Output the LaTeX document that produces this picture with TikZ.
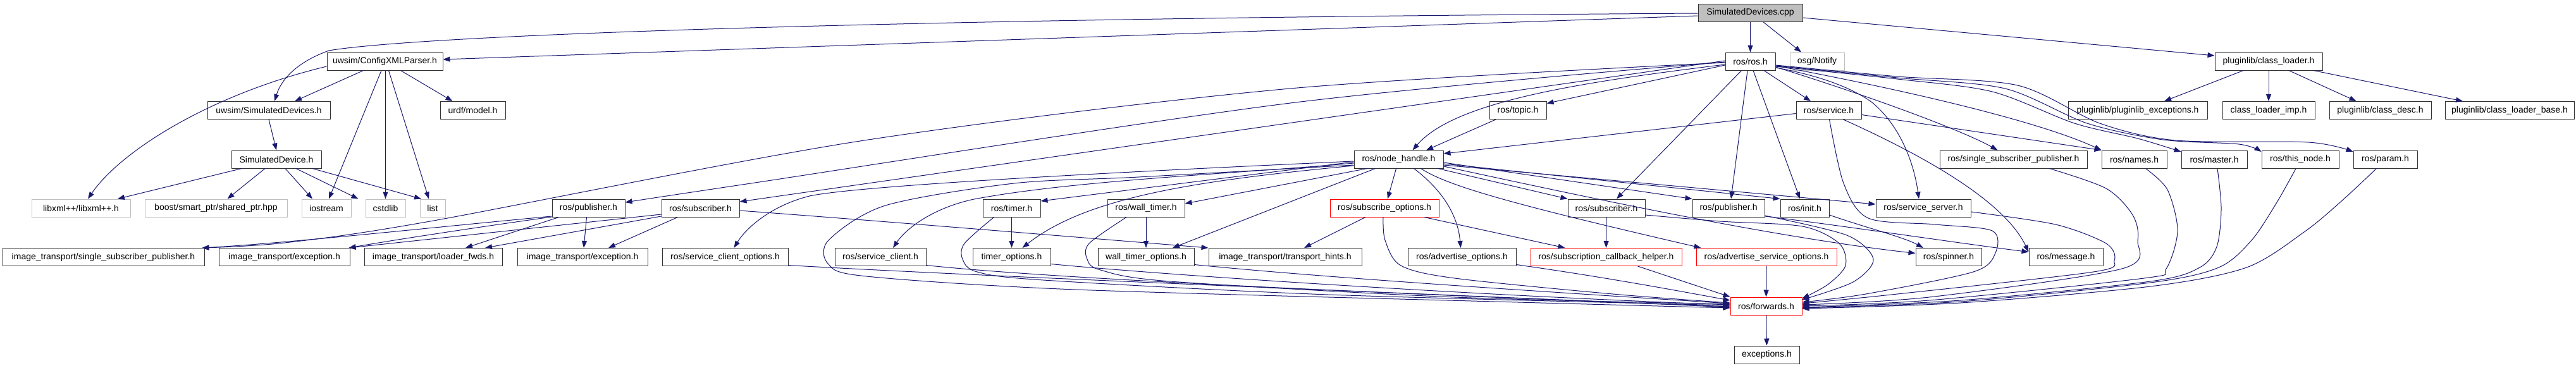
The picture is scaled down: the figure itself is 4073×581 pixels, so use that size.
\documentclass[tikz,border=0pt]{standalone}
\usepackage{fontspec}
\setmainfont{Liberation Sans}
\usetikzlibrary{arrows.meta}
\definecolor{edgec}{RGB}{25,25,112}
\definecolor{grayfill}{RGB}{191,191,191}
\definecolor{extborder}{RGB}{191,191,191}
\definecolor{boxborder}{RGB}{50,50,50}
\begin{document}
\begin{tikzpicture}[x=1pt,y=1pt,
  nb/.style={draw=boxborder, line width=1pt, fill=white, minimum height=28pt, inner sep=0pt, font=\fontsize{14}{16}\selectfont},
  ext/.style={nb, draw=extborder},
  trunc/.style={nb, draw=red},
  rootn/.style={nb, fill=grayfill},
  inc/.style={draw=edgec, line width=1pt, -{Triangle[length=11pt,width=8pt]}}]
\useasboundingbox (0,0) rectangle (4073,-581);
% row 1
\node[rootn, minimum width=165] (cpp) at (2767.5,-20) {SimulatedDevices.cpp};
% row 2
\node[nb, minimum width=183] (cfg) at (608.5,-97) {uwsim/ConfigXMLParser.h};
\node[nb, minimum width=79] (ros) at (2767.5,-97) {ros/ros.h};
\node[ext, minimum width=86] (osg) at (2873,-97) {osg/Notify};
\node[nb, minimum width=170] (cl) at (3587,-97) {pluginlib/class\_loader.h};
% row 3
\node[nb, minimum width=194] (simdevs) at (425,-174.5) {uwsim/SimulatedDevices.h};
\node[nb, minimum width=103] (urdf) at (747.5,-174.5) {urdf/model.h};
\node[nb, minimum width=90] (topic) at (2400,-174.5) {ros/topic.h};
\node[nb, minimum width=103] (service) at (2891.5,-174.5) {ros/service.h};
\node[nb, minimum width=220] (plexc) at (3380,-174.5) {pluginlib/pluginlib\_exceptions.h};
\node[nb, minimum width=146] (climp) at (3587,-174.5) {class\_loader\_imp.h};
\node[nb, minimum width=161] (cdesc) at (3763.5,-174.5) {pluginlib/class\_desc.h};
\node[nb, minimum width=204] (clbase) at (3968,-174.5) {pluginlib/class\_loader\_base.h};
% row 4
\node[nb, minimum width=142] (simdev) at (437,-252) {SimulatedDevice.h};
\node[nb, minimum width=141] (nh) at (2211.5,-252) {ros/node\_handle.h};
\node[nb, minimum width=233] (ssp) at (3183.5,-252) {ros/single\_subscriber\_publisher.h};
\node[nb, minimum width=103] (names) at (3374.5,-252) {ros/names.h};
\node[nb, minimum width=104] (master) at (3501,-252) {ros/master.h};
\node[nb, minimum width=122] (thisnode) at (3637,-252) {ros/this\_node.h};
\node[nb, minimum width=101] (param) at (3771.5,-252) {ros/param.h};
% row 5
\node[ext, minimum width=156] (libxml) at (128,-329) {libxml++/libxml++.h};
\node[ext, minimum width=225] (boost) at (341.5,-329) {boost/smart\_ptr/shared\_ptr.hpp};
\node[ext, minimum width=78] (iostream) at (516,-329) {iostream};
\node[ext, minimum width=63] (cstdlib) at (609.5,-329) {cstdlib};
\node[ext, minimum width=40] (list) at (684,-329) {list};
\node[nb, minimum width=115] (pub1) at (930.5,-329) {ros/publisher.h};
\node[nb, minimum width=123] (sub1) at (1107.5,-329) {ros/subscriber.h};
\node[nb, minimum width=91] (timer) at (1599.5,-329) {ros/timer.h};
\node[nb, minimum width=122] (wtimer) at (1812,-329) {ros/wall\_timer.h};
\node[trunc, minimum width=172] (subopt) at (2189,-329) {ros/subscribe\_options.h};
\node[nb, minimum width=122] (sub2) at (2540,-329) {ros/subscriber.h};
\node[nb, minimum width=114] (pub2) at (2733,-329) {ros/publisher.h};
\node[nb, minimum width=77] (init) at (2853.5,-329) {ros/init.h};
\node[nb, minimum width=150] (srvsrv) at (3041,-329) {ros/service\_server.h};
% row 6
\node[nb, minimum width=319] (itssp) at (163.5,-406.5) {image\_transport/single\_subscriber\_publisher.h};
\node[nb, minimum width=207] (itexc1) at (449.5,-406.5) {image\_transport/exception.h};
\node[nb, minimum width=218] (itlf) at (685,-406.5) {image\_transport/loader\_fwds.h};
\node[nb, minimum width=206] (itexc2) at (921,-406.5) {image\_transport/exception.h};
\node[nb, minimum width=199] (sco) at (1146.5,-406.5) {ros/service\_client\_options.h};
\node[nb, minimum width=144] (sc) at (1392,-406.5) {ros/service\_client.h};
\node[nb, minimum width=123] (topt) at (1599.5,-406.5) {timer\_options.h};
\node[nb, minimum width=152] (wtopt) at (1812,-406.5) {wall\_timer\_options.h};
\node[nb, minimum width=242] (ith) at (2032,-406.5) {image\_transport/transport\_hints.h};
\node[nb, minimum width=171] (advopt) at (2311.5,-406.5) {ros/advertise\_options.h};
\node[trunc, minimum width=239] (sch) at (2539.5,-406.5) {ros/subscription\_callback\_helper.h};
\node[trunc, minimum width=222] (aso) at (2793,-406.5) {ros/advertise\_service\_options.h};
\node[nb, minimum width=104] (spinner) at (3081,-406.5) {ros/spinner.h};
\node[nb, minimum width=117] (message) at (3266.5,-406.5) {ros/message.h};
% row 7-8
\node[trunc, minimum width=113] (fwd) at (2792.5,-484) {ros/forwards.h};
\node[nb, minimum width=103] (exc) at (2793.5,-561) {exceptions.h};

% ---- edges from the root
\draw[inc] ([yshift=-5]cpp.west) -- ([yshift=3]cfg.east);
\draw[inc] ([yshift=-1]cpp.west) .. controls (1300,-30) and (650,-58) .. (520,-80) .. controls (470,-98) and (445,-125) .. ([xshift=9]simdevs.north);
\draw[inc] (cpp.south) -- (ros.north);
\draw[inc] ([xshift=20]cpp.south) -- ([xshift=-25]osg.north);
\draw[inc] ([yshift=-8]cpp.east) -- ([yshift=9]cl.west);
% class loader
\draw[inc] ([xshift=-40]cl.south) -- ([xshift=42]plexc.north);
\draw[inc] (cl.south) -- (climp.north);
\draw[inc] ([xshift=32]cl.south) -- ([xshift=-38]cdesc.north);
\draw[inc] ([xshift=71]cl.south) -- ([xshift=-74]clbase.north);
% ConfigXMLParser
\draw[inc] ([xshift=-34]cfg.south) -- ([xshift=41]simdevs.north);
\draw[inc] ([yshift=-8]cfg.west) .. controls (330,-150) and (190,-240) .. ([xshift=11]libxml.north);
\draw[inc] ([xshift=-5.5]cfg.south) -- ([xshift=4]iostream.north);
\draw[inc] ([xshift=1]cfg.south) -- (cstdlib.north);
\draw[inc] ([xshift=6]cfg.south) -- ([xshift=-6]list.north);
\draw[inc] ([xshift=25]cfg.south) -- ([xshift=-32]urdf.north);
\draw[inc] (simdevs.south) -- (simdev.north);
% SimulatedDevice
\draw[inc] ([xshift=-55]simdev.south) -- ([xshift=58]libxml.north);
\draw[inc] ([xshift=-18]simdev.south) -- ([xshift=18]boost.north);
\draw[inc] ([xshift=14]simdev.south) -- ([xshift=-22]iostream.north);
\draw[inc] ([xshift=31]simdev.south) -- ([xshift=-43]cstdlib.north);
\draw[inc] ([xshift=57]simdev.south) -- ([xshift=-18]list.north);
% ros.h
\draw[inc] ([yshift=-5]ros.west) .. controls (2500,-130) and (2300,-160) .. ([xshift=22]nh.north);
\draw[inc] ([yshift=-6]ros.west) -- ([yshift=11]topic.east);
\draw[inc] plot[smooth] coordinates {([yshift=-2]ros.west) (2040,-140) (1360,-223) (680,-350) (450,-384) ([xshift=-4]itssp.north east)};
\draw[inc] plot[smooth] coordinates {([yshift=-1]ros.west) (2040,-163) (1187,-290) ([yshift=9]pub1.east)};
\draw[inc] ([yshift=1]ros.west) -- ([yshift=10]sub1.east);
\draw[inc] ([xshift=21.5]ros.south) -- ([xshift=-28.5]service.north);
\draw[inc] ([xshift=-14]ros.south) -- ([xshift=16]sub2.north);
\draw[inc] ([xshift=-4.5]ros.south) -- ([xshift=4]pub2.north);
\draw[inc] ([xshift=4.5]ros.south) -- ([xshift=-7.5]init.north);
\draw[inc] ([yshift=-9]ros.east) .. controls (2950,-150) and (3100,-205) .. ([xshift=-25]ssp.north);
\draw[inc] ([yshift=-7]ros.east) .. controls (3000,-140) and (3220,-190) .. (names.north west);
\draw[inc] plot[smooth] coordinates {([yshift=-8]ros.east) (3000,-125) (3150,-145) (3280,-195) (3380,-219) ([yshift=12]master.west)};
\draw[inc] plot[smooth] coordinates {([yshift=-7]ros.east) (3000,-123) (3170,-140) (3300,-195) (3420,-221) (3540,-228) ([yshift=12]thisnode.west)};
\draw[inc] plot[smooth] coordinates {([yshift=-6]ros.east) (3000,-121) (3190,-135) (3320,-195) (3440,-222) (3650,-225) ([yshift=12]param.west)};
\draw[inc] ([yshift=-10]ros.east) .. controls (2880,-120) and (2930,-140) .. (2960,-162) .. controls (3000,-195) and (3025,-250) .. ([xshift=-7]srvsrv.north);
% service.h
\draw[inc] ([yshift=-5]service.west) -- ([yshift=9]nh.east);
\draw[inc] ([yshift=-7]service.east) -- (names.north west);
\draw[inc] ([xshift=23]service.south) .. controls (3050,-250) and (3170,-320) .. ([yshift=8]message.west);
\draw[inc] plot[smooth] coordinates {([xshift=1]service.south) (2915,-290) (2954,-345) (3060,-355) (3150,-365) (3155,-400) (3120,-430) (2950,-465) ([yshift=6]fwd.east)};
% topic
\draw[inc] ([xshift=-35]topic.south) -- ([xshift=43.5]nh.north);
% node_handle
\draw[inc] ([yshift=-3]nh.west) .. controls (1700,-275) and (1350,-295) .. (1280,-310) .. controls (1220,-325) and (1180,-360) .. ([xshift=14]sco.north);
\draw[inc] ([yshift=-6]nh.west) .. controls (1950,-275) and (1700,-285) .. (1540,-315) .. controls (1470,-330) and (1430,-365) .. ([xshift=20]sc.north);
\draw[inc] ([yshift=-4]nh.west) -- ([yshift=11]timer.east);
\draw[inc] ([yshift=-10]nh.west) .. controls (1900,-285) and (1720,-310) .. ([xshift=17]topt.north);
\draw[inc] ([xshift=-50]nh.south) -- ([yshift=7]wtimer.east);
\draw[inc] ([xshift=-37]nh.south) -- ([xshift=42]wtopt.north);
\draw[inc] ([xshift=-4]nh.south) -- ([xshift=5]subopt.north);
\draw[inc] ([xshift=24]nh.south) .. controls (2280,-300) and (2305,-340) .. ([xshift=-2]advopt.north);
\draw[inc] ([xshift=35]nh.south) .. controls (2290,-295) and (2400,-325) .. ([xshift=8]aso.north west);
\draw[inc] ([xshift=62]nh.south) -- (sub2.north west);
\draw[inc] ([yshift=-5]nh.east) -- (pub2.north west);
\draw[inc] ([yshift=-7]nh.east) -- (init.north west);
\draw[inc] ([yshift=-9]nh.east) -- ([yshift=6]srvsrv.west);
\draw[inc] ([yshift=-11]nh.east) .. controls (2500,-310) and (2800,-375) .. ([yshift=6]spinner.west);
\draw[inc] plot[smooth] coordinates {([yshift=-9]nh.west) (1800,-280) (1603,-290) (1400,-325) (1310,-380) (1310,-418) (1370,-437) (1700,-458) (2400,-478) ([yshift=-3]fwd.west)};
% subscribe options etc.
\draw[inc] ([xshift=-30]subopt.south) -- ([xshift=30]ith.north);
\draw[inc] ([xshift=63]subopt.south) -- ([xshift=-65]sch.north);
\draw[inc] (sub2.south) -- (sch.north);
% image transport side
\draw[inc] ([yshift=-4]sub1.east) .. controls (1400,-350) and (1700,-375) .. (ith.north west);
\draw[inc] ([yshift=-10]sub1.west) -- ([xshift=-2]itexc1.north east);
\draw[inc] ([yshift=-13]sub1.west) -- ([xshift=82]itlf.north);
\draw[inc] ([xshift=-36]sub1.south) -- ([xshift=41]itexc2.north);
\draw[inc] ([yshift=-13]pub1.west) .. controls (700,-358) and (450,-385) .. ([xshift=-4]itssp.north east);
\draw[inc] ([yshift=-14]pub1.west) .. controls (750,-360) and (620,-380) .. ([xshift=-2]itexc1.north east);
\draw[inc] ([xshift=-47]pub1.south) -- ([xshift=51]itlf.north);
\draw[inc] ([xshift=-3]pub1.south) -- ([xshift=2]itexc2.north);
% timers
\draw[inc] (timer.south) -- (topt.north);
\draw[inc] (wtimer.south) -- (wtopt.north);
% init / publisher
\draw[inc] ([yshift=-11]init.east) .. controls (2950,-360) and (3010,-375) .. ([xshift=-40]spinner.north);
\draw[inc] ([yshift=-13]pub2.east) .. controls (2900,-355) and (3100,-385) .. ([yshift=8]message.west);
% into forwards from the left
\draw[inc] ([yshift=-13]sco.east) .. controls (1600,-440) and (2400,-470) .. ([yshift=-2]fwd.west);
\draw[inc] ([yshift=-13]sc.east) .. controls (1700,-445) and (2400,-472) .. ([yshift=-1]fwd.west);
\draw[inc] plot[smooth] coordinates {([xshift=-28]timer.south) (1525,-385) (1522,-410) (1545,-430) (1650,-443) (2100,-466) ([yshift=1]fwd.west)};
\draw[inc] ([yshift=-11]topt.east) .. controls (1900,-440) and (2400,-470) .. ([yshift=2]fwd.west);
\draw[inc] plot[smooth] coordinates {([xshift=-31]wtimer.south) (1722,-385) (1719,-410) (1740,-427) (1850,-445) (2300,-470) ([yshift=3]fwd.west)};
\draw[inc] ([yshift=-12]wtopt.east) .. controls (2100,-440) and (2500,-465) .. ([yshift=4]fwd.west);
\draw[inc] plot[smooth] coordinates {([xshift=-2]subopt.south) (2190,-380) (2215,-420) (2300,-440) (2550,-465) ([yshift=5]fwd.west)};
\draw[inc] ([yshift=-12]advopt.east) .. controls (2550,-440) and (2680,-465) .. ([yshift=9]fwd.west);
\draw[inc] ([xshift=50]sch.south) -- (fwd.north west);
\draw[inc] (aso.south) -- (fwd.north);
% into forwards from the right
\draw[inc] plot[smooth] coordinates {([yshift=-12]pub2.east) (2920,-372) (2962,-410) (2930,-446) ([yshift=10]fwd.east)};
\draw[inc] plot[smooth] coordinates {([yshift=-11]sub2.east) (2720,-350) (2850,-358) (2908,-385) (2918,-420) (2890,-450) ([yshift=12]fwd.east)};
\draw[inc] plot[smooth] coordinates {([yshift=-6]srvsrv.east) (3250,-355) (3330,-385) (3343,-412) (3310,-430) (3000,-465) ([yshift=4]fwd.east)};
\draw[inc] plot[smooth] coordinates {([xshift=57]ssp.south) (3330,-298) (3372,-340) (3380,-380) (3355,-425) (3050,-470) ([yshift=2]fwd.east)};
\draw[inc] plot[smooth] coordinates {([xshift=18]names.south) (3427,-300) (3443,-365) (3425,-425) (3390,-440) (3050,-475) (fwd.east)};
\draw[inc] plot[smooth] coordinates {([xshift=5]master.south) (3512,-330) (3505,-390) (3478,-423) (3400,-445) (3100,-475) ([yshift=-2]fwd.east)};
\draw[inc] plot[smooth] coordinates {([xshift=-7]thisnode.south) (3600,-320) (3560,-380) (3508,-423) (3400,-447) (3100,-477) ([yshift=-3]fwd.east)};
\draw[inc] plot[smooth] coordinates {([xshift=-14]param.south) (3700,-320) (3643,-367) (3552,-423) (3400,-453) (3100,-479) ([yshift=-4]fwd.east)};
\draw[inc] (fwd.south) -- (exc.north);
\end{tikzpicture}
\end{document}
